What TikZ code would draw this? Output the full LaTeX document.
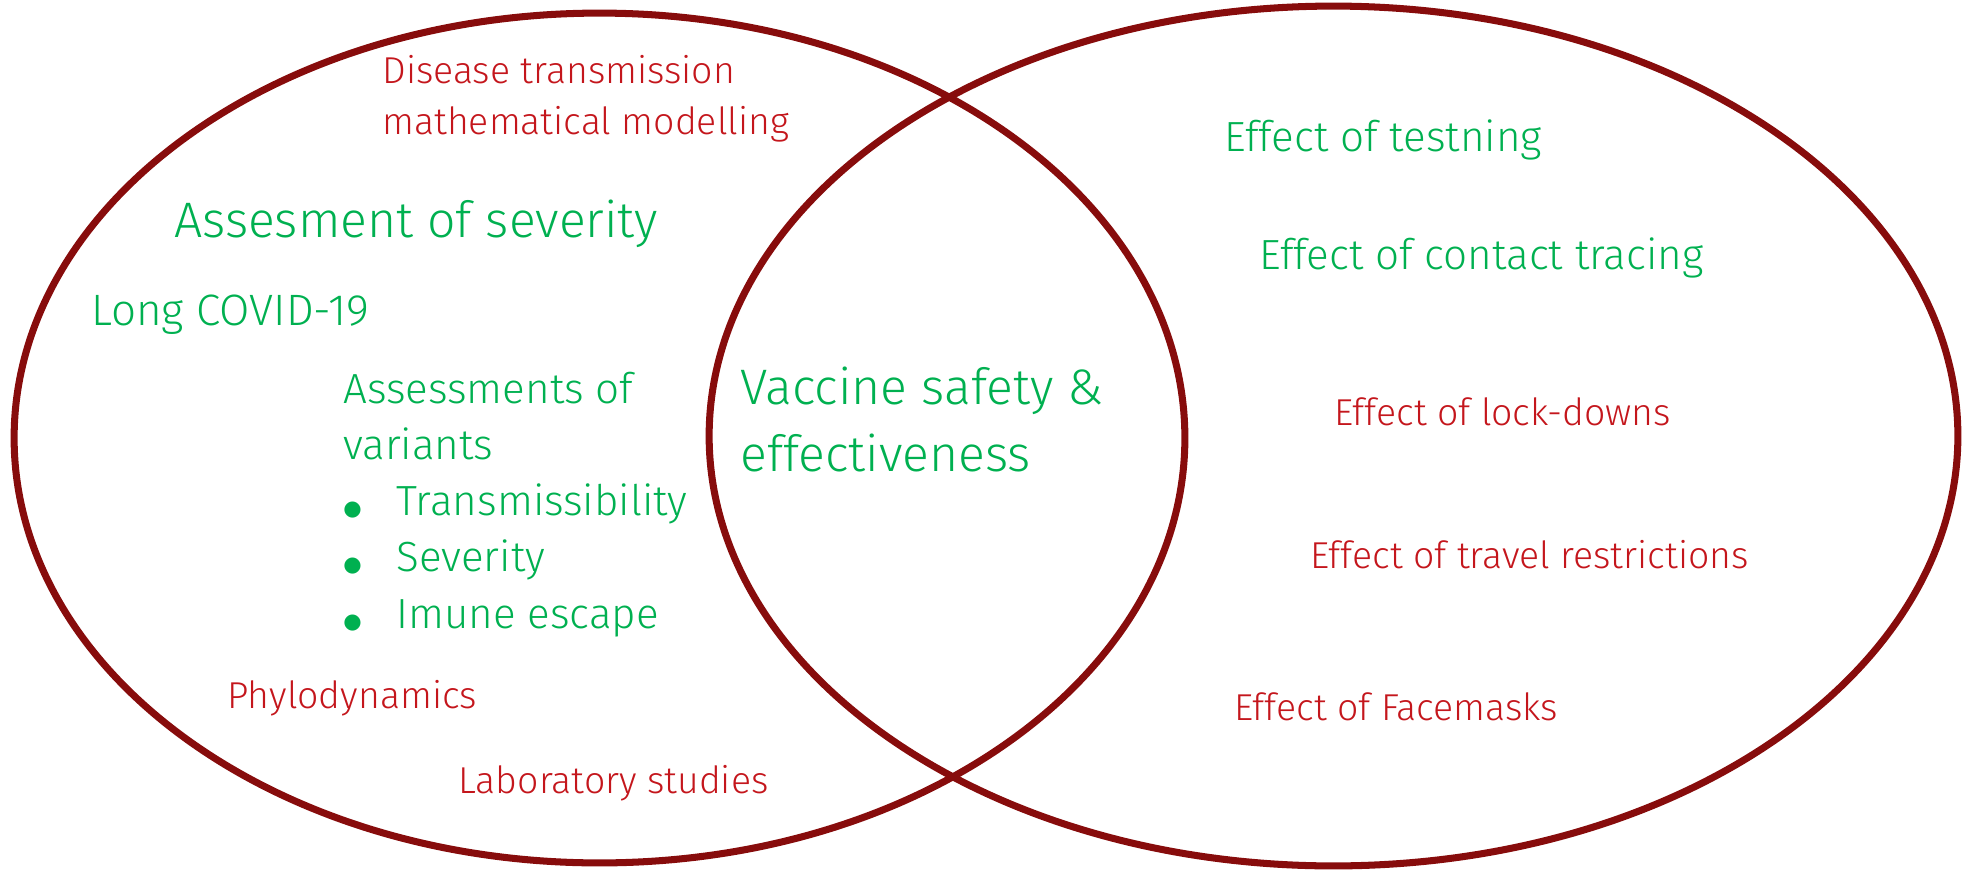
\documentclass[tikz,border=0pt]{standalone}
\usepackage{fontspec}
\IfFontExistsTF{Fira Sans Light}{\setmainfont{Fira Sans Light}}{\setmainfont{Fira Sans}}
\newfontfamily\symfont{DejaVu Sans}
\usetikzlibrary{shapes.geometric,positioning}
\definecolor{ringred}{RGB}{135,12,12}
\definecolor{txtred}{RGB}{196,22,28}
\definecolor{txtgreen}{RGB}{0,176,80}
\newcommand{\bul}{\makebox[1.06cm][l]{{\symfont\fontsize{12}{12}\selectfont ●}}}

\begin{document}
\begin{tikzpicture}[x=0.02cm,y=-0.02cm,
	ring/.style={ellipse,draw=ringred,line width=4pt,inner sep=0},
	redtxt/.style={anchor=base west,inner sep=0,text=txtred,align=left,font=\fontsize{21.3}{28.9}\selectfont},
	grntxt/.style={anchor=base west,inner sep=0,text=txtgreen,align=left,font=\fontsize{24}{32}\selectfont},
	bigtxt/.style={grntxt,font=\fontsize{28.4}{38}\selectfont},
]
\useasboundingbox (0,0) rectangle (1966,872);
\node[ring,minimum width=23.42cm,minimum height=17cm] (left) at (599.5,438) {};
\node[ring,minimum width=24.98cm,minimum height=17.2cm] (right) at (1333.5,436) {};

\node[redtxt] (model) at (382,134) {Disease transmission\\mathematical modelling};
\node[bigtxt] (severity) at (174,237) {Assesment of severity};
\node[grntxt,font=\fontsize{25}{32}\selectfont] (longcovid) at (91,325) {Long COVID-19};
\node[grntxt] (variants) at (343,628) {Assessments of\\variants\\\bul Transmissibility\\\bul Severity\\\bul Imune escape};
\node[redtxt] (phylo) at (227,708) {Phylodynamics};
\node[redtxt] (lab) at (458,793) {Laboratory studies};

\node[bigtxt] (vaccine) at (740,471) {Vaccine safety \&\\effectiveness};

\node[grntxt] (testing) at (1224,151) {Effect of testning};
\node[grntxt] (tracing) at (1259,269) {Effect of contact tracing};
\node[redtxt] (lockdown) at (1334,425) {Effect of lock-downs};
\node[redtxt] (travel) at (1310,568) {Effect of travel restrictions};
\node[redtxt] (masks) at (1234,720) {Effect of Facemasks};
\end{tikzpicture}
\end{document}
